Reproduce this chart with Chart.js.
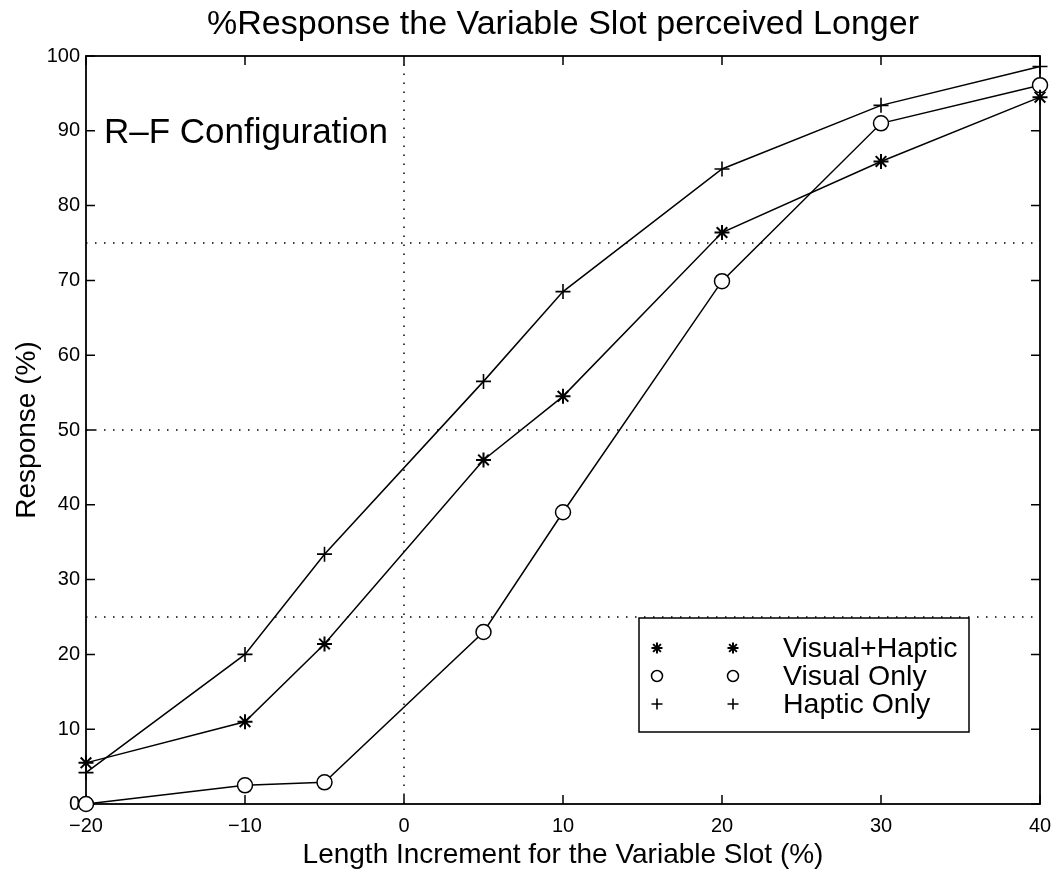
<!DOCTYPE html>
<html>
<head>
<meta charset="utf-8">
<title>%Response the Variable Slot perceived Longer</title>
<script src="https://cdn.jsdelivr.net/npm/chart.js"></script>
<style>
  html, body { margin: 0; padding: 0; background: #fff; }
  #wrap { width: 1057px; height: 874px; }
</style>
</head>
<body>
<div id="wrap"><canvas id="respChart"></canvas></div>
<script>
// length increment of the variable slot (%)
const increments = [-20, -10, -5, 5, 10, 20, 30, 40];

// % of answers "variable slot perceived longer"
const visualHaptic = [5.5, 11, 21.4, 46, 54.5, 76.4, 85.9, 94.5];
const visualOnly = [0, 2.5, 2.9, 23, 39, 69.9, 91, 96.1];
const hapticOnly = [4.2, 20, 33.4, 56.5, 68.5, 84.9, 93.4, 98.6];

const seriesNames = ["Visual+Haptic", "Visual Only", "Haptic Only"];
const seriesMarkers = ["star", "circle", "cross"];
const markerWeights = [2, 1.5, 1.6];

// dotted reference lines
const refLevels = [25, 50, 75];
const refIncrement = 0;

const xRange = [-20, 40];
const yRange = [0, 100];

const FONT = "'Liberation Sans', Arial, Helvetica, sans-serif";

function toPoints(xs, ys) {
  return xs.map((x, i) => ({ x: x, y: ys[i] }));
}

const seriesData = [visualHaptic, visualOnly, hapticOnly];

const datasets = seriesData.map((vals, i) => ({
  label: seriesNames[i],
  data: toPoints(increments, vals),
  borderColor: "#000",
  borderWidth: 1.5,
  pointStyle: seriesMarkers[i],
  pointRadius: 7.5,
  pointBorderWidth: markerWeights[i],
  pointBorderColor: "#000",
  pointBackgroundColor: "#fff",
  tension: 0,
  clip: false,
}));

// horizontal dotted lines at 25/50/75 and the vertical one at 0
refLevels.forEach((lv) => {
  datasets.push({
    label: "ref" + lv,
    data: [{ x: xRange[0], y: lv }, { x: xRange[1], y: lv }],
    borderColor: "#000",
    borderWidth: 1.5,
    borderDash: [1.5, 7.5],
    pointRadius: 0,
  });
});
datasets.push({
  label: "ref0",
  data: [{ x: refIncrement, y: yRange[0] }, { x: refIncrement, y: yRange[1] }],
  borderColor: "#000",
  borderWidth: 1.5,
  borderDash: [1.5, 7.5],
  pointRadius: 0,
});

// axes box with inward tick marks
const axesBox = {
  id: "axesBox",
  beforeDatasetsDraw(chart) {
    const { ctx, chartArea: a, scales } = chart;
    ctx.save();
    ctx.strokeStyle = "#000";
    ctx.lineWidth = 1.8;
    ctx.strokeRect(a.left, a.top, a.right - a.left, a.bottom - a.top);
    ctx.lineWidth = 1.5;
    ctx.beginPath();
    scales.x.ticks.forEach((t) => {
      const px = scales.x.getPixelForValue(t.value);
      ctx.moveTo(px, a.bottom); ctx.lineTo(px, a.bottom - 9);
      ctx.moveTo(px, a.top); ctx.lineTo(px, a.top + 9);
    });
    scales.y.ticks.forEach((t) => {
      const py = scales.y.getPixelForValue(t.value);
      ctx.moveTo(a.left, py); ctx.lineTo(a.left + 9, py);
      ctx.moveTo(a.right, py); ctx.lineTo(a.right - 9, py);
    });
    ctx.stroke();
    ctx.restore();
  },
};

function drawMarker(ctx, style, radius, weight, x, y) {
  const opts = { pointStyle: style, radius: radius, rotation: 0, borderWidth: weight };
  ctx.lineWidth = weight;
  if (Chart.helpers && Chart.helpers.drawPoint) {
    Chart.helpers.drawPoint(ctx, opts, x, y);
    return;
  }
  ctx.beginPath();
  if (style === "circle") {
    ctx.arc(x, y, radius, 0, Math.PI * 2);
  } else {
    ctx.moveTo(x - radius, y); ctx.lineTo(x + radius, y);
    ctx.moveTo(x, y - radius); ctx.lineTo(x, y + radius);
    if (style === "star") {
      const d = radius * 0.7;
      ctx.moveTo(x - d, y - d); ctx.lineTo(x + d, y + d);
      ctx.moveTo(x - d, y + d); ctx.lineTo(x + d, y - d);
    }
  }
  ctx.stroke();
}

// boxed legend in the lower right, plus the configuration label
const boxLegend = {
  id: "boxLegend",
  afterDraw(chart) {
    const { ctx, chartArea: a } = chart;
    const w = 330, h = 114;
    const x0 = a.right - 71 - w;
    const y0 = a.bottom - 72 - h;
    ctx.save();
    ctx.fillStyle = "#fff";
    ctx.fillRect(x0, y0, w, h);
    ctx.strokeStyle = "#000";
    ctx.lineWidth = 1.5;
    ctx.strokeRect(x0, y0, w, h);

    ctx.font = "28.5px " + FONT;
    ctx.textBaseline = "middle";
    seriesNames.forEach((name, i) => {
      const y = y0 + 30 + i * 28;
      ctx.fillStyle = "#fff";
      ctx.strokeStyle = "#000";
      drawMarker(ctx, seriesMarkers[i], 5.5, markerWeights[i], x0 + 18, y);
      drawMarker(ctx, seriesMarkers[i], 5.5, markerWeights[i], x0 + 94, y);
      ctx.fillStyle = "#000";
      ctx.fillText(name, x0 + 144, y + 1);
    });

    ctx.font = "35px " + FONT;
    ctx.textBaseline = "alphabetic";
    ctx.fillText("R\u2013F Configuration", a.left + 18, a.top + 87);
    ctx.restore();
  },
};

function minusLabel(v) {
  return v < 0 ? "\u2212" + Math.abs(v) : String(v);
}

new Chart(document.getElementById("respChart"), {
  type: "line",
  data: { datasets: datasets },
  options: {
    responsive: true,
    maintainAspectRatio: false,
    animation: false,
    events: [],
    layout: { padding: { left: 0, right: 17, top: 0, bottom: 0 } },
    plugins: {
      legend: { display: false },
      tooltip: { enabled: false },
      title: {
        display: true,
        text: "%Response the Variable Slot perceived Longer",
        fullSize: false,
        color: "#000",
        font: { family: FONT, size: 34, weight: "normal" },
        padding: { top: 4.6, bottom: 10.6 },
      },
    },
    scales: {
      x: {
        type: "linear",
        min: xRange[0],
        max: xRange[1],
        grid: { display: false, drawTicks: false },
        border: { display: false },
        afterFit: (scale) => {
          scale.height = 70;
          scale.paddingLeft = 0;
          scale.paddingRight = 0;
        },
        ticks: {
          stepSize: 10,
          color: "#000",
          padding: 10,
          font: { family: FONT, size: 20 },
          callback: minusLabel,
        },
        title: {
          display: true,
          text: "Length Increment for the Variable Slot (%)",
          color: "#000",
          font: { family: FONT, size: 28 },
          padding: { top: 0, bottom: 2 },
        },
      },
      y: {
        min: yRange[0],
        max: yRange[1],
        grid: { display: false, drawTicks: false },
        border: { display: false },
        afterFit: (scale) => { scale.width = 86; },
        ticks: {
          stepSize: 10,
          color: "#000",
          padding: 6,
          font: { family: FONT, size: 20 },
          callback: minusLabel,
        },
        title: {
          display: true,
          text: "Response (%)",
          color: "#000",
          font: { family: FONT, size: 28 },
          padding: { top: 10, bottom: 0 },
        },
      },
    },
  },
  plugins: [axesBox, boxLegend],
});
</script>
</body>
</html>
